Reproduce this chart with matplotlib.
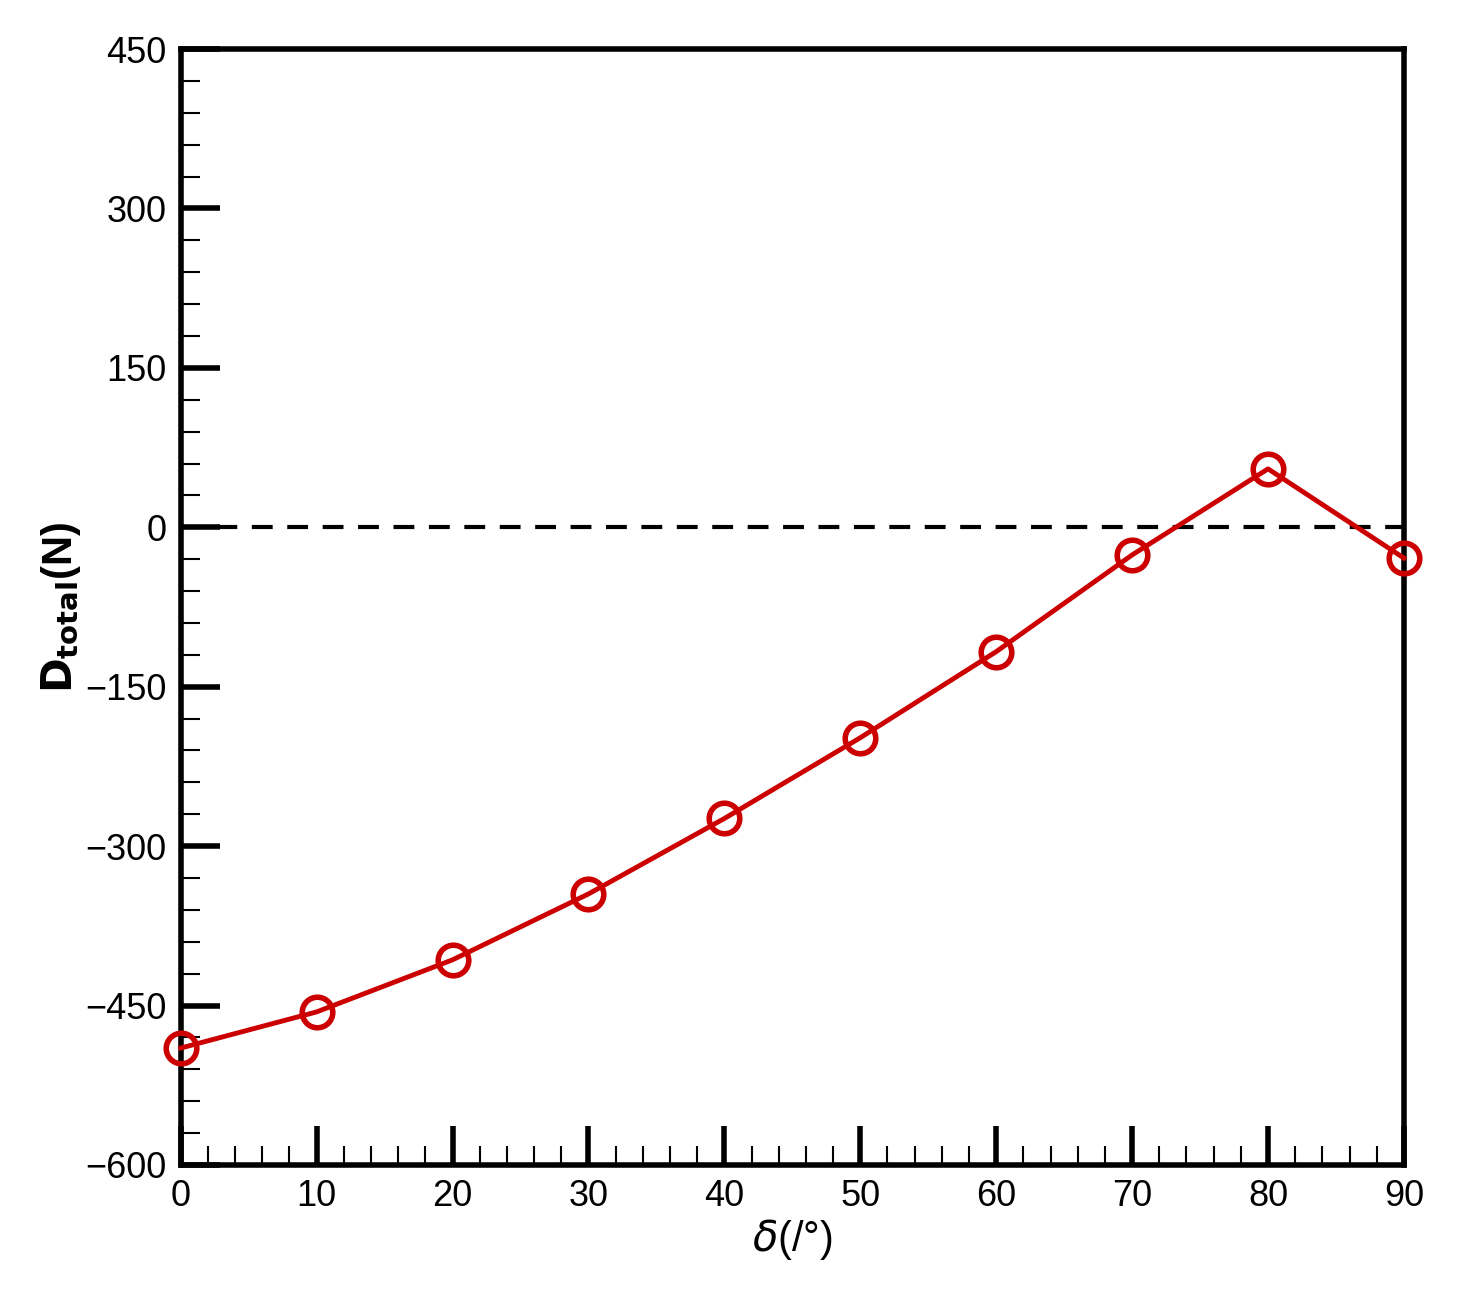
import matplotlib
matplotlib.use('Agg')
import matplotlib.pyplot as plt
from matplotlib.ticker import MultipleLocator

plt.rcParams['font.family'] = ['Liberation Sans', 'DejaVu Sans']

# data
delta = [0, 10, 20, 30, 40, 50, 60, 70, 80, 90]
d_total = [-490, -456, -407, -345, -274, -198, -117, -26, 55, -29]

fig = plt.figure(figsize=(14.57, 12.98), dpi=100)
ax = fig.add_axes([0.124, 0.1025, 0.8396, 0.8597])

ax.axhline(0, color='black', lw=3, ls=(0, (5, 3.5)), zorder=1)
ax.plot(delta, d_total, color='#cc0000', lw=3.5, marker='o', ms=22,
        mfc='none', mec='#cc0000', mew=4, clip_on=False, zorder=3)

ax.set_xlim(0, 90)
ax.set_ylim(-600, 450)
ax.xaxis.set_major_locator(MultipleLocator(10))
ax.xaxis.set_minor_locator(MultipleLocator(2))
ax.yaxis.set_major_locator(MultipleLocator(150))
ax.yaxis.set_minor_locator(MultipleLocator(30))
ax.tick_params(which='major', direction='in', length=28, width=4, labelsize=26, pad=10)
ax.tick_params(which='minor', direction='in', length=14, width=1.5)
for s in ax.spines.values():
    s.set_linewidth(4)

ax.set_xlabel(r'$\delta$(/°)', fontsize=30, labelpad=2)
ax.set_ylabel(r'$\mathbf{D_{total}}$(N)', fontsize=30, fontweight='bold', labelpad=2)

plt.savefig('out.png', dpi=100)
